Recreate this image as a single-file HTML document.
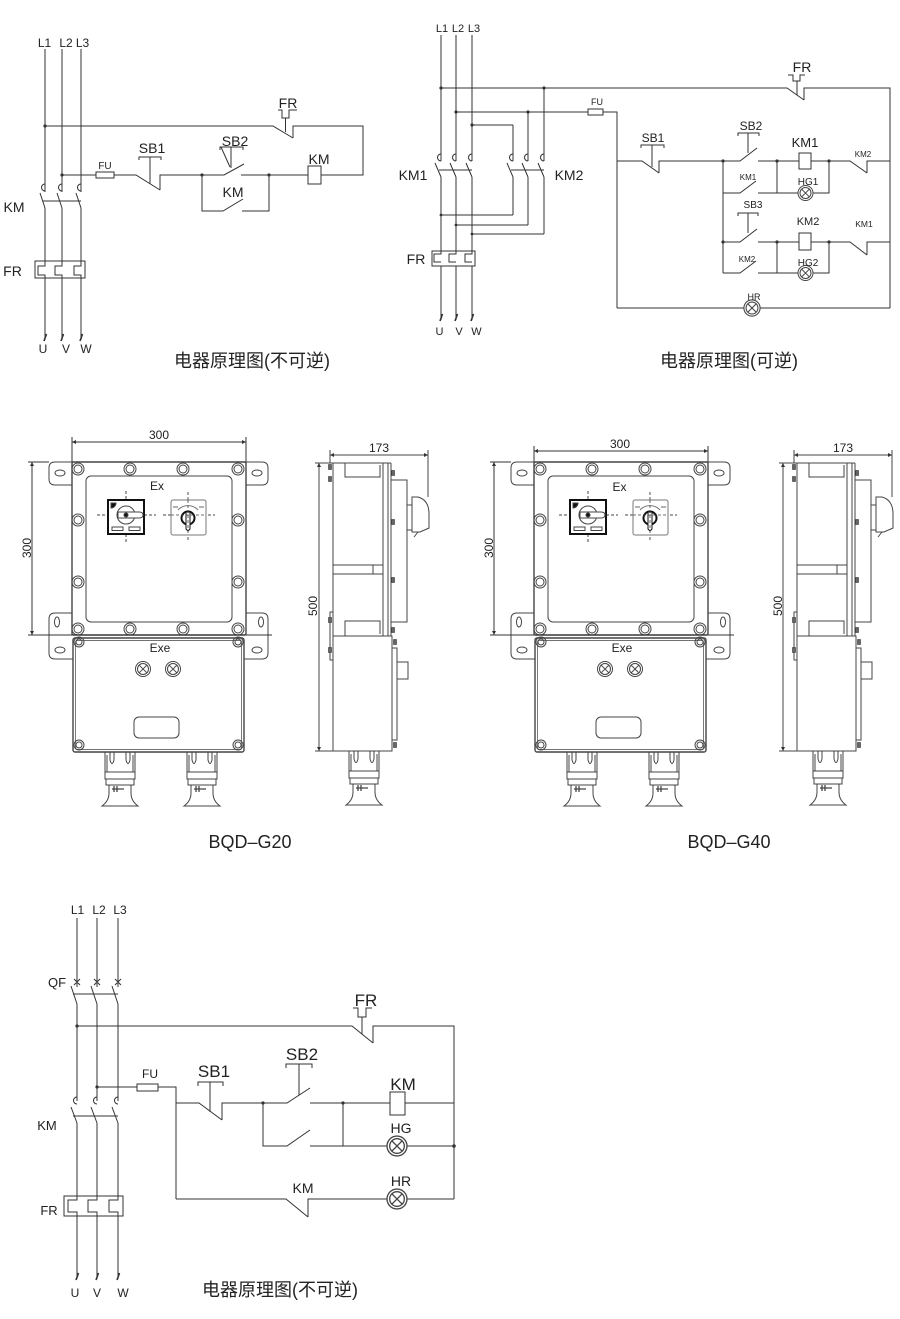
<!DOCTYPE html>
<html><head><meta charset="utf-8">
<style>
html,body{margin:0;padding:0;background:#fff;}
svg{display:block;}
text{font-family:"Liberation Sans","Noto Sans CJK SC",sans-serif;fill:#222;}
</style></head>
<body>
<svg width="900" height="1319" viewBox="0 0 900 1319" xmlns="http://www.w3.org/2000/svg" xmlns:xlink="http://www.w3.org/1999/xlink">
<rect width="900" height="1319" fill="#fff"/>
<defs>
  <marker id="ar" viewBox="0 0 10 10" refX="10" refY="5" markerWidth="9" markerHeight="4" markerUnits="userSpaceOnUse" orient="auto-start-reverse">
    <path d="M0,0 L10,5 L0,10 z" fill="#333"/>
  </marker>
  <g id="gland" fill="none" stroke="#444" stroke-width="1">
    <path d="M-15,0 V20 H15 V0"/>
    <path d="M-10,0 V8 Q-8,15 -6,8 V0 M6,0 V8 Q8,15 10,8 V0"/>
    <path d="M-13,3 V20 M13,3 V20"/>
    <rect x="-15" y="20" width="30" height="7"/>
    <rect x="-14" y="27" width="28" height="6"/>
    <path d="M-11,33 V41 M11,33 V41"/>
    <path d="M-8,37 H4 M-6,34 V40 M-3,34 V40" stroke-width="1.3"/>
    <path d="M-11,41 Q-11,49 -18,54 H18 Q11,49 11,41"/>
  </g>
  <g id="bolt" fill="none" stroke="#444" stroke-width="1">
    <circle r="6"/><circle r="4"/>
  </g>
  <g id="sbolt" fill="none" stroke="#444" stroke-width="1">
    <circle r="5"/><circle r="3"/>
  </g>
  <g id="lamp" fill="none" stroke="#444" stroke-width="1">
    <circle r="7.5"/><circle r="5.5"/>
    <path d="M-3.8,-3.8 L3.8,3.8 M3.8,-3.8 L-3.8,3.8"/>
  </g>
  <g id="front" fill="none" stroke="#444" stroke-width="1">
    <path d="M72,485 H55 Q49,485 49,479 V468 Q49,462 55,462 H262 Q268,462 268,468 V479 Q268,485 262,485 H246"/>
    <ellipse cx="60" cy="473" rx="5" ry="3"/>
    <ellipse cx="257" cy="473" rx="5" ry="3"/>
    <path d="M72,613 H55 Q49,613 49,619 V653 Q49,659 55,659 H73"/>
    <path d="M246,613 H262 Q268,613 268,619 V653 Q268,659 262,659 H244"/>
    <ellipse cx="57" cy="622" rx="2.5" ry="5"/>
    <ellipse cx="60" cy="650" rx="5" ry="3"/>
    <ellipse cx="261" cy="622" rx="2.5" ry="5"/>
    <ellipse cx="257" cy="650" rx="5" ry="3"/>
    <rect x="72" y="462" width="174" height="173" rx="1.5" stroke-width="1.4"/>
    <rect x="86" y="476" width="146" height="146" rx="5"/>
    <rect x="73" y="638" width="171" height="114" rx="2" stroke-width="1.4"/>
    <rect x="75.5" y="640.5" width="166" height="109" rx="1.5" stroke-width="0.7"/>
    <use xlink:href="#bolt" x="78" y="469"/><use xlink:href="#bolt" x="130" y="469"/>
    <use xlink:href="#bolt" x="183" y="469"/><use xlink:href="#bolt" x="238" y="469"/>
    <use xlink:href="#bolt" x="78" y="520"/><use xlink:href="#bolt" x="238" y="520"/>
    <use xlink:href="#bolt" x="78" y="582"/><use xlink:href="#bolt" x="238" y="582"/>
    <use xlink:href="#bolt" x="78" y="629"/><use xlink:href="#bolt" x="130" y="629"/>
    <use xlink:href="#bolt" x="183" y="629"/><use xlink:href="#bolt" x="238" y="629"/>
    <use xlink:href="#sbolt" x="79" y="642"/><use xlink:href="#sbolt" x="238" y="642"/>
    <use xlink:href="#sbolt" x="79" y="745"/><use xlink:href="#sbolt" x="238" y="745"/>
    <use xlink:href="#lamp" x="143" y="669"/><use xlink:href="#lamp" x="173" y="669"/>
    <rect x="134" y="717" width="45" height="21" rx="5"/>
    <path d="M97,515 H108 M144,515 H156 M126,491 V500 M126,534 V543" stroke-dasharray="3,2"/>
    <rect x="108" y="500" width="36" height="34" stroke="#111" stroke-width="2"/>
    <circle cx="126" cy="515" r="9"/>
    <path d="M118,512 H139 Q143,512 143,515 Q143,518 139,518 H118 Z" fill="#fff"/>
    <circle cx="126" cy="515" r="2" fill="#111"/>
    <path d="M111,503 h5 a5,5 0 0 1 -5,5 z" fill="#111"/>
    <rect x="112" y="527" width="11" height="3.5"/>
    <rect x="129" y="527" width="11" height="3.5"/>
    <path d="M163,515 H215 M188,492 V542" stroke-dasharray="3,2" stroke-width="0.9"/>
    <rect x="171" y="500" width="35" height="35" rx="2" stroke="#777" fill="#fff"/>
    <path d="M178,510 A13,12 0 0 1 198,510" stroke="#777"/>
    <path d="M173,507 h5 M199,507 h5" stroke="#999" stroke-width="1.5"/>
    <circle cx="188" cy="518" r="6.5" stroke="#111" stroke-width="2"/>
    <path d="M186,512 H190 V529 L188,531 L186,529 Z" fill="#fff" stroke="#111"/>
    <path d="M171,515 H206 M188,500 V535" stroke-dasharray="3,2" stroke-width="0.8"/>
    <use xlink:href="#gland" x="120" y="752"/>
    <use xlink:href="#gland" x="202" y="752"/>
  </g>
  <g id="side" fill="none" stroke="#444" stroke-width="1">
    <path d="M330,450 V463 M428,450 V497"/>
    <path d="M330,455 H428" marker-start="url(#ar)" marker-end="url(#ar)"/>
    <path d="M315,463 H333 M315,751 H333"/>
    <path d="M319,463 V751" marker-start="url(#ar)" marker-end="url(#ar)"/>
    <path d="M333,463 V751 M333,463 H391"/>
    <path d="M383,463 V636 M388,463 V636 M391,463 V636"/>
    <path d="M345,463 V477 H380 V465"/>
    <path d="M333,565 H383 M333,574 H383 M373,565 V574"/>
    <path d="M345,636 V621 H380 V634"/>
    <rect x="391" y="480" width="16" height="142"/>
    <rect x="407" y="505" width="5" height="25"/>
    <path d="M412,497 H418 Q429,500 429,514 V528 L420,532 H412 Z"/>
    <path d="M418,532 L414,537"/>
    <rect x="333" y="636" width="59" height="115"/>
    <rect x="392" y="648" width="5" height="92"/>
    <rect x="397" y="662" width="11" height="17"/>
    <rect x="330" y="612" width="3" height="48"/>
    <g fill="#666" stroke="#333" stroke-width="0.6">
      <rect x="328.5" y="464.5" width="3" height="5"/><rect x="328.5" y="476.5" width="3" height="5"/>
      <rect x="328.5" y="617.5" width="3" height="5"/><rect x="328.5" y="647.5" width="3" height="5"/>
      <rect x="391.5" y="470.5" width="3" height="5"/><rect x="391.5" y="519.5" width="3" height="5"/>
      <rect x="391.5" y="577.5" width="3" height="5"/><rect x="391.5" y="627.5" width="3" height="5"/>
      <rect x="393.5" y="639.5" width="3" height="5"/><rect x="393.5" y="742.5" width="3" height="5"/>
    </g>
    <use xlink:href="#gland" x="364" y="751"/>
  </g>
</defs>

<!-- ============ TOP-LEFT CIRCUIT ============ -->
<g stroke="#333" stroke-width="1" fill="none">
  <path d="M45,49 V192 M45,208 V266 H38 V275 H45 V340"/>
  <path d="M62,49 V192 M62,208 V266 H55 V275 H62 V340"/>
  <path d="M81,49 V192 M81,208 V266 H74 V275 H81 V340"/>
  <path d="M45,184 A3.5,3.5 0 0 0 45,191 M62,184 A3.5,3.5 0 0 0 62,191 M81,184 A3.5,3.5 0 0 0 81,191"/>
  <path d="M40,193 L45,208 M57,193 L62,208 M76,193 L81,208"/>
  <path d="M43,201 H81"/>
  <rect x="35" y="261" width="50" height="17"/>
  <path d="M46.5,334 L44,341 M63.5,334 L61,341 M82.5,334 L80,341" stroke-width="1.6"/>
  <path d="M45,126 H273 L293,138 M293,138 V126 H363 V175 H321"/>
  <path d="M278,110 H282 V118 H289 V110 H297 M285.5,118 V132"/>
  <path d="M62,175 H96 M114,175 H136 L160,190 M160,190 V175 H224 L244,164 M241,175 H308"/>
  <rect x="96" y="172" width="18" height="6"/>
  <rect x="308" y="166" width="13" height="18"/>
  <path d="M139,160 V157 H161 V160 M150,157 V184"/>
  <path d="M220,150 V147 H243 V150 M231,147 V168 M221,147 L230,167"/>
  <path d="M202,175 V211 H223 L243,199 M242,211 H269 V175"/>
</g>
<g fill="#333">
  <circle cx="45" cy="126" r="1.6"/><circle cx="62" cy="175" r="1.6"/>
  <circle cx="202" cy="175" r="1.6"/><circle cx="269" cy="175" r="1.6"/>
</g>
<g font-size="12" text-anchor="middle">
  <text x="44.5" y="47">L1</text><text x="66" y="47">L2</text><text x="82.5" y="47">L3</text>
  <text x="43" y="353">U</text><text x="66" y="353">V</text><text x="86" y="353">W</text>
</g>
<g font-size="14" text-anchor="middle">
  <text x="14" y="212">KM</text>
  <text x="12.5" y="276">FR</text>
  <text x="288" y="108">FR</text>
  <text x="152" y="153">SB1</text>
  <text x="235" y="146">SB2</text>
  <text x="319" y="164">KM</text>
  <text x="233" y="197">KM</text>
</g>
<text x="105" y="169" font-size="10" text-anchor="middle">FU</text>
<text x="252" y="367" font-size="18" text-anchor="middle">电器原理图(不可逆)</text>

<!-- ============ TOP-RIGHT CIRCUIT ============ -->
<g stroke="#333" stroke-width="1" fill="none">
  <path d="M441,35 V161 M441,177 V251 M441,266 V320"/>
  <path d="M456,35 V161 M456,177 V251 M456,266 V320"/>
  <path d="M472,35 V161 M472,177 V251 M472,266 V320"/>
  <path d="M513,125 V161 M513,177 V215 M528,112 V161 M528,177 V225 M544,88 V161 M544,177 V234"/>
  <path d="M441,154 A3.5,3.5 0 0 0 441,161 M456,154 A3.5,3.5 0 0 0 456,161 M472,154 A3.5,3.5 0 0 0 472,161"/>
  <path d="M513,154 A3.5,3.5 0 0 0 513,161 M528,154 A3.5,3.5 0 0 0 528,161 M544,154 A3.5,3.5 0 0 0 544,161"/>
  <path d="M435,163 L441,177 M450,163 L456,177 M466,163 L472,177 M507,163 L513,177 M522,163 L528,177 M538,163 L544,177"/>
  <path d="M439,170 H472 M511,170 H544"/>
  <path d="M472,125 H513 M441,215 H513 M456,225 H528 M472,234 H544"/>
  <rect x="432" y="251" width="43" height="15"/>
  <path d="M441,251 V254 H434 V262 H441 M456,251 V254 H449 V262 H456 M472,251 V254 H465 V262 H472"/>
  <path d="M442.5,314 L440,321 M457.5,314 L455,321 M473.5,314 L471,321" stroke-width="1.6"/>
  <path d="M441,88 H787 L804,100 M804,100 V88 H890 V308"/>
  <path d="M788,75 H793 V81 H800 V75 H805 M797,81 V95"/>
  <path d="M456,112 H588 M603,112 H617 V308"/>
  <rect x="588" y="109" width="15" height="6"/>
  <path d="M617,161 H642 L659,173 M659,173 V161 H740 L757,148 M758,161 H799 M811,161 H850 L867,173 M867,173 V161 H890"/>
  <rect x="799" y="153" width="12" height="16"/>
  <path d="M641,148 V145 H664 V148 M652,145 V167"/>
  <path d="M738,136 V133 H759 V136 M748,133 V153"/>
  <path d="M723,161 V273"/>
  <path d="M723,193 H740 L756,181 M758,193 H777 V161 M777,193 H798 M813,193 H829 V161"/>
  <path d="M738,216 V213 H758 V216 M748,213 V233"/>
  <path d="M723,242 H740 L757,229 M758,242 H799 M811,242 H850 L867,255 M867,255 V242 H890"/>
  <rect x="799" y="233" width="12" height="17"/>
  <path d="M723,273 H740 L756,261 M758,273 H777 V242 M777,273 H798 M813,273 H829 V242"/>
  <path d="M617,308 H744 M760,308 H890"/>
</g>
<use xlink:href="#lamp" x="805.5" y="193"/>
<use xlink:href="#lamp" x="805.5" y="273"/>
<g transform="translate(752,308) scale(1.08)"><use xlink:href="#lamp"/></g>
<g fill="#333">
  <circle cx="441" cy="88" r="1.6"/><circle cx="544" cy="88" r="1.6"/>
  <circle cx="456" cy="112" r="1.6"/><circle cx="528" cy="112" r="1.6"/>
  <circle cx="472" cy="125" r="1.6"/>
  <circle cx="441" cy="215" r="1.4"/><circle cx="456" cy="225" r="1.4"/><circle cx="472" cy="234" r="1.4"/>
  <circle cx="723" cy="161" r="1.6"/><circle cx="777" cy="161" r="1.6"/><circle cx="829" cy="161" r="1.6"/>
  <circle cx="723" cy="242" r="1.6"/><circle cx="777" cy="242" r="1.6"/><circle cx="829" cy="242" r="1.6"/>
</g>
<g font-size="11" text-anchor="middle">
  <text x="442" y="32">L1</text><text x="458" y="32">L2</text><text x="474" y="32">L3</text>
  <text x="439.5" y="335">U</text><text x="459" y="335">V</text><text x="476.5" y="335">W</text>
</g>
<g font-size="14" text-anchor="middle">
  <text x="413" y="180">KM1</text>
  <text x="569" y="180">KM2</text>
  <text x="416" y="264">FR</text>
  <text x="802" y="72">FR</text>
</g>
<g text-anchor="middle">
  <text x="653" y="142" font-size="12">SB1</text>
  <text x="751" y="130" font-size="12">SB2</text>
  <text x="805" y="147" font-size="13">KM1</text>
  <text x="863" y="157" font-size="8">KM2</text>
  <text x="748" y="180" font-size="8">KM1</text>
  <text x="808" y="185" font-size="10">HG1</text>
  <text x="753" y="208" font-size="10">SB3</text>
  <text x="808" y="225" font-size="11">KM2</text>
  <text x="864" y="227" font-size="8.5">KM1</text>
  <text x="747" y="262" font-size="8">KM2</text>
  <text x="808" y="266" font-size="10">HG2</text>
  <text x="754" y="300" font-size="9">HR</text>
  <text x="597" y="105" font-size="9">FU</text>
</g>
<text x="729" y="367" font-size="18" text-anchor="middle">电器原理图(可逆)</text>

<!-- ============ ENCLOSURES ============ -->
<use xlink:href="#front"/>
<use xlink:href="#front" transform="translate(462,0)"/>
<use xlink:href="#side"/>
<use xlink:href="#side" transform="translate(464,0)"/>

<g stroke="#333" stroke-width="1" fill="none">
  <path d="M72,437 V462 M246,437 V462"/>
  <path d="M72,442 H246" marker-start="url(#ar)" marker-end="url(#ar)"/>
  <path d="M28,462 H49 M28,635 H272"/>
  <path d="M32,462 V635" marker-start="url(#ar)" marker-end="url(#ar)"/>
  <path d="M534,446 V462 M708,446 V462"/>
  <path d="M534,451 H708" marker-start="url(#ar)" marker-end="url(#ar)"/>
  <path d="M490,462 H511 M490,635 H734"/>
  <path d="M494,462 V635" marker-start="url(#ar)" marker-end="url(#ar)"/>
</g>
<g font-size="12" text-anchor="middle">
  <text x="159" y="439">300</text>
  <text x="620" y="448">300</text>
  <text transform="translate(31,548) rotate(-90)">300</text>
  <text transform="translate(493,548) rotate(-90)">300</text>
  <text x="379" y="452">173</text>
  <text x="843" y="452">173</text>
  <text transform="translate(317,606) rotate(-90)">500</text>
  <text transform="translate(782,606) rotate(-90)">500</text>
  <text x="157" y="490">Ex</text>
  <text x="619.5" y="491">Ex</text>
  <text x="160" y="652">Exe</text>
  <text x="622" y="652">Exe</text>
</g>
<text x="250" y="848" font-size="18" text-anchor="middle">BQD–G20</text>
<text x="729" y="848" font-size="18" text-anchor="middle">BQD–G40</text>

<!-- ============ BOTTOM CIRCUIT ============ -->
<g stroke="#333" stroke-width="1" fill="none">
  <path d="M77,918 V987 M77,1004 V1101 M77,1123 V1200 H68 V1212 H77 V1279"/>
  <path d="M97,918 V987 M97,1004 V1101 M97,1123 V1200 H88 V1212 H97 V1279"/>
  <path d="M118,918 V987 M118,1004 V1101 M118,1123 V1200 H109 V1212 H118 V1279"/>
  <path d="M74,979 L80,985 M80,979 L74,985 M94,979 L100,985 M100,979 L94,985 M115,979 L121,985 M121,979 L115,985"/>
  <path d="M71,986 L77,1004 M91,986 L97,1004 M112,986 L118,1004"/>
  <path d="M73,994 H118"/>
  <path d="M77,1097 A3.5,3.5 0 0 0 77,1104 M97,1097 A3.5,3.5 0 0 0 97,1104 M118,1097 A3.5,3.5 0 0 0 118,1104"/>
  <path d="M71,1107 L77,1123 M91,1107 L97,1123 M112,1107 L118,1123"/>
  <path d="M73,1116 H118"/>
  <rect x="64" y="1196" width="59" height="20"/>
  <path d="M78.5,1273 L76,1280 M98.5,1273 L96,1280 M119.5,1273 L117,1280" stroke-width="1.6"/>
  <path d="M77,1026 H352 L373,1043 M373,1043 V1026 H454 V1199"/>
  <path d="M353,1008 H358 V1017 H366 V1008 H372 M362,1017 V1034"/>
  <path d="M97,1087 H137 M158,1087 H176 V1199"/>
  <rect x="137" y="1084" width="21" height="7"/>
  <path d="M176,1103 H199 L222,1120 M222,1120 V1103 H287 L310,1088 M310,1103 H390 M405,1103 H454"/>
  <rect x="390" y="1092" width="15" height="23"/>
  <path d="M198,1086 V1082 H223 V1086 M210,1082 V1112"/>
  <path d="M286,1068 V1064 H312 V1068 M299,1064 V1095"/>
  <path d="M263,1103 V1146 H287 L310,1130 M310,1146 H387 M407,1146 H454 M343,1103 V1146"/>
  <path d="M176,1199 H286 L308,1217 M308,1217 V1199 H387 M407,1199 H454"/>
</g>
<g transform="translate(397,1146) scale(1.33)"><use xlink:href="#lamp"/></g>
<g transform="translate(397,1199) scale(1.33)"><use xlink:href="#lamp"/></g>
<g fill="#333">
  <circle cx="77" cy="1026" r="1.6"/><circle cx="97" cy="1087" r="1.6"/>
  <circle cx="263" cy="1103" r="1.6"/><circle cx="343" cy="1103" r="1.6"/>
  <circle cx="454" cy="1146" r="1.8"/>
</g>
<g font-size="12" text-anchor="middle">
  <text x="77.5" y="914">L1</text><text x="99" y="914">L2</text><text x="120" y="914">L3</text>
  <text x="75" y="1297">U</text><text x="97" y="1297">V</text><text x="123" y="1297">W</text>
  <text x="150" y="1078">FU</text>
</g>
<g font-size="13" text-anchor="middle">
  <text x="57" y="987">QF</text>
  <text x="47" y="1130">KM</text>
  <text x="49" y="1215">FR</text>
</g>
<g font-size="17" text-anchor="middle">
  <text x="366" y="1006">FR</text>
  <text x="214" y="1077">SB1</text>
  <text x="302" y="1060">SB2</text>
  <text x="403" y="1090">KM</text>
</g>
<g font-size="14" text-anchor="middle">
  <text x="401" y="1133">HG</text>
  <text x="303" y="1193">KM</text>
  <text x="401" y="1186">HR</text>
</g>
<text x="280" y="1296" font-size="18" text-anchor="middle">电器原理图(不可逆)</text>
</svg>
</body></html>
